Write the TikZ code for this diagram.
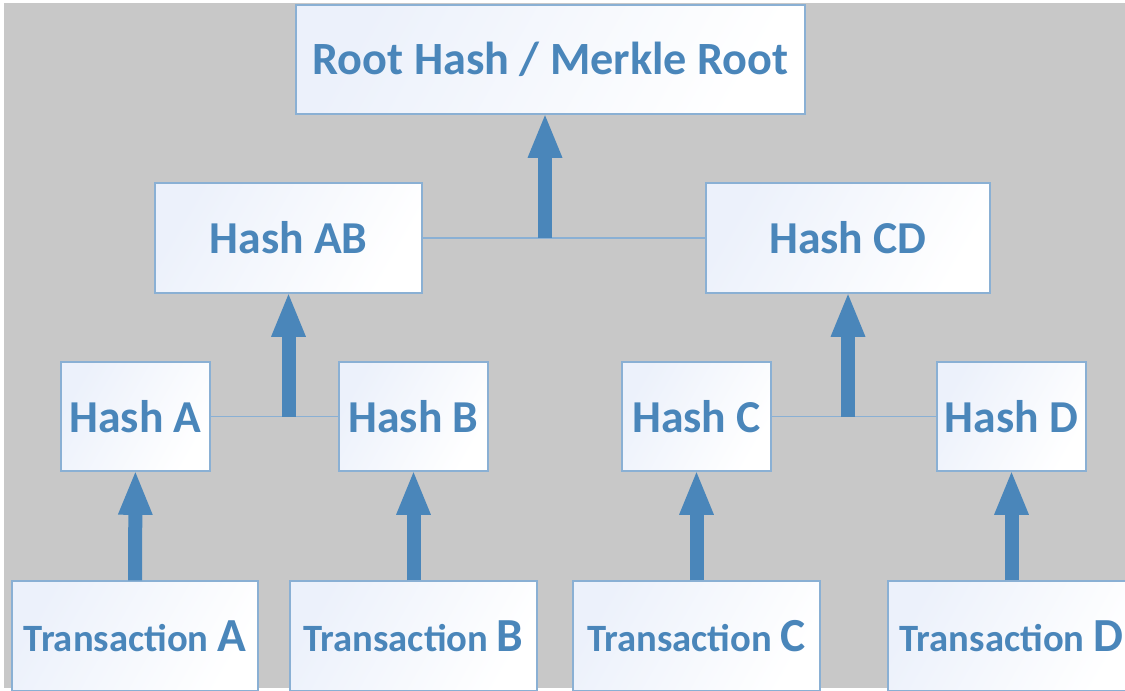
\documentclass[tikz,border=0pt]{standalone}
\usepackage{fontspec}
\setmainfont{Carlito}
\usepackage{tikz}
\usetikzlibrary{positioning,arrows.meta,calc}
\definecolor{hashblue}{RGB}{74,134,186}
\definecolor{boxrule}{RGB}{138,176,212}
\definecolor{boxtint}{RGB}{236,241,251}
\definecolor{canvas}{RGB}{200,200,200}
\tikzset{
  hashbox/.style={rectangle,draw=boxrule,line width=0.6pt,align=center,inner sep=2pt,left color=boxtint,right color=white,shading angle=60,text=hashblue,font=\bfseries},
  rootbox/.style={hashbox,minimum width=10.18cm,minimum height=2.18cm,font=\fontsize{26.3}{31}\selectfont\bfseries},
  pairbox/.style={hashbox,minimum height=2.2cm,font=\fontsize{26}{31}\selectfont\bfseries},
  leafbox/.style={hashbox,minimum width=2.98cm,minimum height=2.18cm,font=\fontsize{26}{31}\selectfont\bfseries},
  txbox/.style={hashbox,minimum height=2.2cm,font=\fontsize{22}{27}\selectfont\bfseries},
  link/.style={draw=boxrule,line width=0.8pt},
  uparrow/.style={hashblue,line width=0.28cm,-{Triangle[width=0.62cm,length=0.9cm]},shorten >=-1pt}
}
\newcommand{\txlabel}[1]{Transaction {\fontsize{27}{27}\selectfont #1}}

\begin{document}
\begin{tikzpicture}
  \useasboundingbox (0,0) rectangle (22.5,-13.8);
  \fill[canvas] (0.08,-0.06) rectangle (22.5,-13.76);
  % top level
  \node[rootbox] (root) at (11.01,-1.19) {Root Hash / Merkle Root};
  % middle level
  \node[pairbox,minimum width=5.34cm] (hAB) at (5.77,-4.76) {Hash AB};
  \node[pairbox,minimum width=5.68cm] (hCD) at (16.96,-4.76) {Hash CD};
  % leaf hashes
  \node[leafbox] (hA) at (2.71,-8.33) {Hash A};
  \node[leafbox] (hB) at (8.27,-8.33) {Hash B};
  \node[leafbox] (hC) at (13.93,-8.33) {Hash C};
  \node[leafbox] (hD) at (20.23,-8.33) {Hash D};
  % transactions
  \node[txbox,minimum width=4.92cm] (tA) at (2.70,-12.72) {\txlabel{A}};
  \node[txbox,minimum width=4.94cm] (tB) at (8.27,-12.72) {\txlabel{B}};
  \node[txbox,minimum width=4.94cm] (tC) at (13.93,-12.72) {\txlabel{C}};
  \node[txbox,minimum width=4.94cm] (tD) at (20.23,-12.72) {\txlabel{D}};
  % joints
  \coordinate (jAB) at (hA.east -| hAB.south);
  \coordinate (jCD) at (hC.east -| hCD.south);
  \coordinate (jRoot) at ($(hAB.east -| root.south)+(-0.11,0)$);
  \draw[link] (hA) -- (hB);
  \draw[link] (hC) -- (hD);
  \draw[link] (hAB) -- (hCD);
  \draw[uparrow] (jAB) -- (hAB);
  \draw[uparrow] (jCD) -- (hCD);
  \draw[uparrow] (jRoot) -- (jRoot |- root.south);
  \foreach \t/\h in {tA/hA,tB/hB,tC/hC,tD/hD}
    \draw[uparrow] (\t) -- (\h);
\end{tikzpicture}
\end{document}
